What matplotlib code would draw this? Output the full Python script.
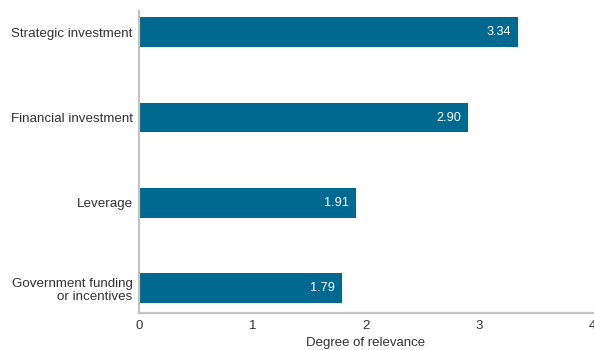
import matplotlib
matplotlib.use("Agg")
import matplotlib.pyplot as plt

categories = ["Strategic investment", "Financial investment", "Leverage",
              "Government funding\nor incentives"]
values = [3.34, 2.90, 1.91, 1.79]
xticks = [0, 1, 2, 3, 4]

bar_color = "#006990"
spine_color = "#c4c4c4"
text_color = "#333333"

plt.rcParams["font.family"] = ["Liberation Sans", "DejaVu Sans"]

fig = plt.figure(figsize=(5.94, 3.5), dpi=100)
ax = fig.add_axes([0.234, 0.106, 0.764, 0.863])

ypos = list(range(len(categories)))
bars = ax.barh(ypos, values, height=0.35, color=bar_color)

for y, v in zip(ypos, values):
    ax.text(v - 0.06, y, f"{v:.2f}", ha="right", va="center",
            color="white", fontsize=9.2)

ax.set_yticks(ypos)
ax.set_yticklabels(categories, fontsize=9.6, color=text_color, linespacing=1.1)
ax.set_ylim(3.29, -0.25)
ax.set_xlim(0, 4)
ax.set_xticks(xticks)
ax.set_xticklabels([str(t) for t in xticks], fontsize=9.5, color=text_color)
ax.set_xlabel("Degree of relevance", fontsize=9.5, color=text_color, labelpad=4)

ax.tick_params(axis="both", length=0)
ax.tick_params(axis="y", pad=4.5)
ax.tick_params(axis="x", pad=5)

for side in ["top", "right"]:
    ax.spines[side].set_visible(False)
for side in ["left", "bottom"]:
    ax.spines[side].set_color(spine_color)
    ax.spines[side].set_linewidth(1.6)

fig.savefig("out.png", dpi=100)
